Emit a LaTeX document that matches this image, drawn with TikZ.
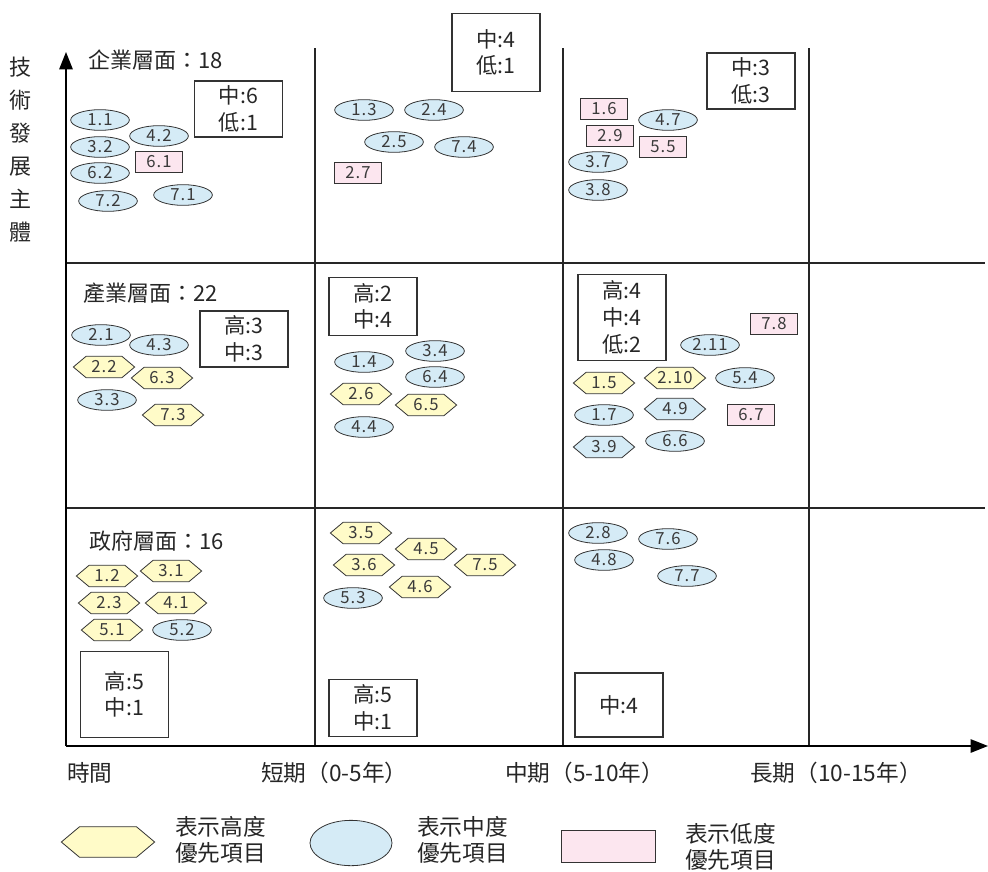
\documentclass[tikz,border=0pt]{standalone}
\usepackage{fontspec}
\setmainfont{Noto Sans CJK TC}
\usetikzlibrary{shapes.geometric,shapes.symbols,arrows.meta}
\definecolor{hiY}{HTML}{FFFBC8}
\definecolor{midB}{HTML}{D5EBF6}
\definecolor{lowP}{HTML}{FCE6EF}
\definecolor{ln}{HTML}{333333}
\definecolor{tx}{HTML}{3A3A3A}
\begin{document}
\begin{tikzpicture}[x=0.75pt,y=-0.75pt,
  gridline/.style={line width=0.9pt, draw=black!85},
  axisline/.style={line width=1.2pt, -{Triangle[length=13pt,width=10pt]}},
  itemtext/.style={font=\fontsize{12.5}{13}\selectfont\addfontfeature{LetterSpace=6}, text=tx, inner sep=0pt},
  midE/.style={itemtext, ellipse, draw=ln, line width=0.6pt, fill=midB, minimum width=44pt, minimum height=15.5pt},
  hiH/.style={itemtext, signal, signal to=east and west, signal pointer angle=80, draw=ln, line width=0.6pt, fill=hiY, minimum width=46pt, minimum height=16pt},
  midH/.style={hiH, fill=midB},
  lowR/.style={itemtext, rectangle, draw=ln, line width=0.6pt, fill=lowP, minimum width=35pt, minimum height=16pt},
  countbox/.style={rectangle, draw=ln, line width=0.8pt, align=center, font=\fontsize{16}{20}\selectfont, text=black!85, inner sep=0pt, minimum width=66pt},
  titletext/.style={anchor=west, font=\fontsize{16.5}{18}\selectfont, text=black!85, inner sep=0pt},
  legendtext/.style={anchor=west, align=left, font=\fontsize{17}{19.5}\selectfont, text=black!85, inner sep=0pt},
]
\useasboundingbox (0,0) rectangle (988,871);

% grid
\draw[gridline] (315,48) -- (315,746);
\draw[gridline] (563,48) -- (563,746);
\draw[gridline] (809,48) -- (809,746);
\draw[gridline] (66,263) -- (985,263);
\draw[gridline] (66,508) -- (985,508);

% axes
\coordinate (o) at (66,746);
\coordinate (ytop) at (66,52);
\coordinate (xend) at (988,746);
\draw[axisline] (o) -- (ytop);
\draw[axisline] (o) -- (xend);

\node[align=center, font=\fontsize{16.5}{24.75}\selectfont, text=black!85, inner sep=0pt] (ylab) at (20,150) {技\\術\\發\\展\\主\\體};

\node[titletext, font=\fontsize{17}{18}\selectfont] (xl0) at (67,773) {時間};
\node[titletext, font=\fontsize{17}{18}\selectfont] (xl1) at (261,773) {短期（0-5年）};
\node[titletext, font=\fontsize{17}{18}\selectfont] (xl2) at (505,773) {中期（5-10年）};
\node[titletext, font=\fontsize{17}{18}\selectfont] (xl3) at (750,773) {長期（10-15年）};

% row titles
\node[titletext] (t1) at (88,60) {企業層面：18};
\node[titletext] (t2) at (83,293) {產業層面：22};
\node[titletext] (t3) at (89,541) {政府層面：16};

% count boxes
\node[countbox, minimum height=42pt] (c11) at (238.5,109) {中:6\\低:1};
\node[countbox, minimum height=59pt] (c12) at (496,52.5) {中:4\\低:1};
\node[countbox, minimum height=42pt] (c13) at (751,81) {中:3\\低:3};
\node[countbox, minimum height=42pt] (c21) at (244,339) {高:3\\中:3};
\node[countbox, minimum height=43pt] (c22) at (373,306.5) {高:2\\中:4};
\node[countbox, minimum height=65pt] (c23) at (622,317.5) {高:4\\中:4\\低:2};
\node[countbox, minimum height=64pt] (c31) at (124.5,694.5) {高:5\\中:1};
\node[countbox, minimum height=43pt] (c32) at (373,708) {高:5\\中:1};
\node[countbox, minimum height=48pt] (c33) at (619,705) {中:4};

% top-left
\node[midE] (i11) at (100,120) {1.1};
\node[midE] (i42) at (159,136) {4.2};
\node[midE] (i32) at (100,147) {3.2};
\node[lowR] (i61) at (159,162) {6.1};
\node[midE] (i62) at (100,173) {6.2};
\node[midE] (i72) at (108,201) {7.2};
\node[midE] (i71) at (183,195) {7.1};
% top-middle
\node[midE] (i13) at (364,110) {1.3};
\node[midE] (i24) at (434,110) {2.4};
\node[midE] (i25) at (394,142) {2.5};
\node[midE] (i74) at (464,147) {7.4};
\node[lowR] (i27) at (358,173) {2.7};
% top-right
\node[lowR] (i16) at (604,109) {1.6};
\node[midE] (i47) at (668,120) {4.7};
\node[lowR] (i29) at (610,136) {2.9};
\node[lowR] (i55) at (663,147) {5.5};
\node[midE] (i37) at (598,162) {3.7};
\node[midE] (i38) at (598,190) {3.8};
% middle-left
\node[midE] (i21) at (101,335) {2.1};
\node[midE] (i43) at (159,345) {4.3};
\node[hiH] (i22) at (104,367) {2.2};
\node[hiH] (i63) at (162,378) {6.3};
\node[midE] (i33) at (107,400) {3.3};
\node[hiH] (i73) at (173,415) {7.3};
% middle-middle
\node[midE] (i14) at (364,362) {1.4};
\node[midE] (i34) at (435,351) {3.4};
\node[midE] (i64) at (435,377) {6.4};
\node[hiH] (i26) at (361,394) {2.6};
\node[hiH] (i65) at (426,405) {6.5};
\node[midE] (i44) at (364,427) {4.4};
% middle-right
\node[lowR] (i78) at (774,324) {7.8};
\node[midE] (i211) at (710,345) {2.11};
\node[hiH] (i15) at (604,383) {1.5};
\node[hiH] (i210) at (675,378) {2.10};
\node[midE] (i54) at (745,378) {5.4};
\node[midE] (i17) at (604,415) {1.7};
\node[midH] (i49) at (675,409) {4.9};
\node[lowR] (i67) at (751,415) {6.7};
\node[midH] (i39) at (604,447) {3.9};
\node[midE] (i66) at (675,441) {6.6};
% bottom-left
\node[hiH] (i12) at (107,576) {1.2};
\node[hiH] (i31) at (171,571) {3.1};
\node[hiH] (i23) at (109,603) {2.3};
\node[hiH] (i41) at (176,603) {4.1};
\node[hiH] (i51) at (112,630) {5.1};
\node[midE] (i52) at (182,630) {5.2};
% bottom-middle
\node[hiH] (i35) at (361,533) {3.5};
\node[hiH] (i45) at (426,549) {4.5};
\node[hiH] (i36) at (364,565) {3.6};
\node[hiH] (i75) at (485,565) {7.5};
\node[hiH] (i46) at (420,587) {4.6};
\node[midE] (i53) at (353,598) {5.3};
% bottom-right
\node[midE] (i28) at (598,533) {2.8};
\node[midE] (i76) at (668,539) {7.6};
\node[midE] (i48) at (604,560) {4.8};
\node[midE] (i77) at (687,576) {7.7};

% legend
\node[hiH, minimum width=70pt, minimum height=23pt] (lg1) at (108,842) {};
\node[legendtext] (lt1) at (175,840) {表示高度\\優先項目};
\node[midE, minimum width=61.5pt, minimum height=34pt] (lg2) at (351,843) {};
\node[legendtext] (lt2) at (417,840) {表示中度\\優先項目};
\node[lowR, minimum width=70.5pt, minimum height=24pt] (lg3) at (608,846) {};
\node[legendtext] (lt3) at (685,847) {表示低度\\優先項目};
\end{tikzpicture}
\end{document}
